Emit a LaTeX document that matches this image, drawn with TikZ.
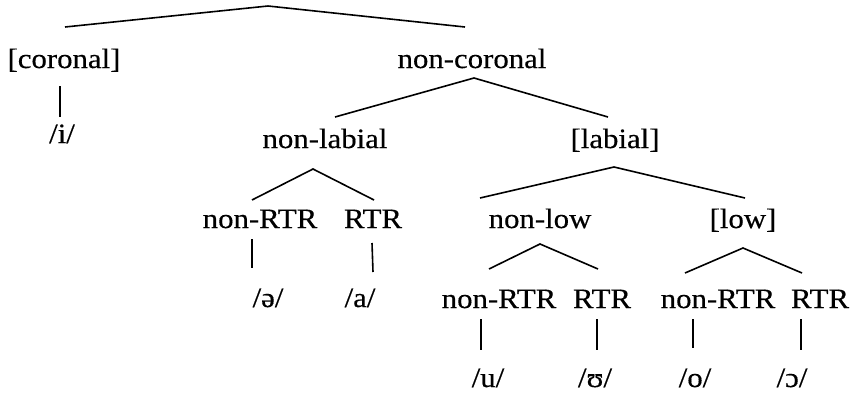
\documentclass[tikz,border=0pt]{standalone}
\usepackage{fontspec}
\setmainfont[FakeStretch=1.1,FakeBold=0.4]{Liberation Serif}
\begin{document}
\begin{tikzpicture}[x=1pt,y=-1pt,
  lbl/.style={font=\fontsize{28}{32}\selectfont, inner sep=0pt, anchor=base},
  edge/.style={line width=1.6pt}]
\useasboundingbox (0,0) rectangle (850,394);
% labels
\node[lbl] (cor)   at (64,68)  {[coronal]};
\node[lbl] (ncor)  at (472,68) {non-coronal};
\node[lbl] (i)     at (62,143) {/i/};
\node[lbl] (nlab)  at (325,148) {non-labial};
\node[lbl] (lab)   at (615,148) {[labial]};
\node[lbl] (nrtrA) at (260,228) {non-RTR};
\node[lbl] (rtrA)  at (373,228) {RTR};
\node[lbl] (nlow)  at (540,228) {non-low};
\node[lbl] (low)   at (743,228) {[low]};
\node[lbl] (schwa) at (268,307) {/ə/};
\node[lbl] (aa)    at (360,307) {/a/};
\node[lbl] (nrtrB) at (499,308) {non-RTR};
\node[lbl] (rtrB)  at (602,308) {RTR};
\node[lbl] (nrtrC) at (718,308) {non-RTR};
\node[lbl] (rtrC)  at (820,308) {RTR};
\node[lbl] (u)     at (488,387) {/u/};
\node[lbl] (ups)   at (595,387) {/ʊ/};
\node[lbl] (o)     at (695,387) {/o/};
\node[lbl] (oo)    at (792,387) {/ɔ/};
% connector points
\coordinate (root) at (268,6);
\coordinate (rL) at (65,27);   \coordinate (rR) at (465,27);
\coordinate (corB) at (60,86); \coordinate (iT) at (60,117);
\coordinate (ncorB) at (474,78);
\coordinate (nlabT) at (335,117); \coordinate (labT) at (608,117);
\coordinate (nlabB) at (313,169);
\coordinate (nrtrAT) at (252,200); \coordinate (rtrAT) at (374,200);
\coordinate (labB) at (614,167);
\coordinate (nlowT) at (480,198); \coordinate (lowT) at (745,198);
\coordinate (nrtrAB) at (252,239); \coordinate (schwaT) at (252,268);
\coordinate (rtrAB) at (372,243); \coordinate (aaT) at (373,272);
\coordinate (nlowB) at (540,244);
\coordinate (nrtrBT) at (489,269); \coordinate (rtrBT) at (598,269);
\coordinate (lowB) at (743,248);
\coordinate (nrtrCT) at (685,273); \coordinate (rtrCT) at (802,273);
\coordinate (nrtrBB) at (481,319); \coordinate (uT) at (481,350);
\coordinate (rtrBB) at (597,319); \coordinate (upsT) at (597,350);
\coordinate (nrtrCB) at (693,319); \coordinate (oT) at (693,348);
\coordinate (rtrCB) at (801,319); \coordinate (ooT) at (801,350);
% connectors
\draw[edge] (rL) -- (root) -- (rR);
\draw[edge] (corB) -- (iT);
\draw[edge] (nlabT) -- (ncorB) -- (labT);
\draw[edge] (nrtrAT) -- (nlabB) -- (rtrAT);
\draw[edge] (nlowT) -- (labB) -- (lowT);
\draw[edge] (nrtrAB) -- (schwaT);
\draw[edge] (rtrAB) -- (aaT);
\draw[edge] (nrtrBT) -- (nlowB) -- (rtrBT);
\draw[edge] (nrtrCT) -- (lowB) -- (rtrCT);
\draw[edge] (nrtrBB) -- (uT);
\draw[edge] (rtrBB) -- (upsT);
\draw[edge] (nrtrCB) -- (oT);
\draw[edge] (rtrCB) -- (ooT);
\end{tikzpicture}
\end{document}
